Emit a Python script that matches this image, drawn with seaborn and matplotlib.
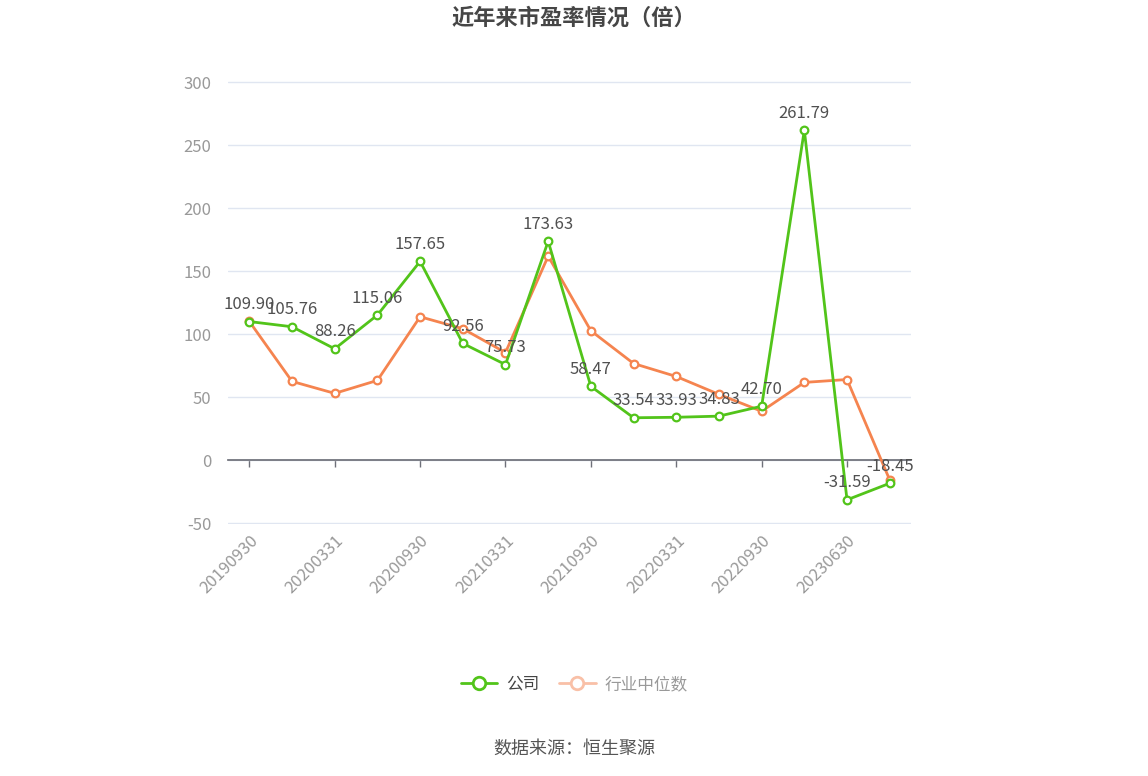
import pandas as pd
import seaborn as sns
import matplotlib.pyplot as plt

dates = ["20190930", "20191231", "20200331", "20200630", "20200930", "20201231",
         "20210331", "20210630", "20210930", "20211231", "20220331", "20220630",
         "20220930", "20221231", "20230630", "20230930"]
company = [109.90, 105.76, 88.26, 115.06, 157.65, 92.56, 75.73, 173.63,
           58.47, 33.54, 33.93, 34.83, 42.70, 261.79, -31.59, -18.45]
industry = [110.0, 62.4, 52.9, 63.2, 113.7, 104.2, 85.3, 161.8,
            102.6, 76.6, 66.3, 52.1, 38.7, 61.6, 63.9, -15.8]
y_ticks = [-50, 0, 50, 100, 150, 200, 250, 300]

sns.set_theme(style="white")
plt.rcParams['font.family'] = ['Noto Sans CJK SC', 'DejaVu Sans']
plt.rcParams['axes.unicode_minus'] = False

green = "#52c41a"
orange = "#f5844f"

df = pd.DataFrame({"idx": range(len(dates)), "company": company, "industry": industry})

fig = plt.figure(figsize=(11.48, 7.76), dpi=100)
ax = fig.add_axes([0.1986, 0.3247, 0.595, 0.5709])

ax.set_yticks(y_ticks)
ax.set_ylim(-50.8, 300.8)
ax.set_xlim(-0.5, len(dates) - 0.5)
ax.grid(axis='y', color="#e0e6f1", linewidth=1)
ax.set_axisbelow(True)

sns.lineplot(data=df, x="idx", y="industry", ax=ax, color=orange, linewidth=2,
             marker='o', markersize=5.5, markerfacecolor='white',
             markeredgecolor=orange, markeredgewidth=1.6, zorder=3)
sns.lineplot(data=df, x="idx", y="company", ax=ax, color=green, linewidth=2,
             marker='o', markersize=5.5, markerfacecolor='white',
             markeredgecolor=green, markeredgewidth=1.6, zorder=4)

for i, v in enumerate(company):
    ax.annotate(f"{v:.2f}", (i, v), xytext=(0, 6), textcoords='offset points',
                ha='center', va='bottom', fontsize=12, color="#505050", zorder=5)

for s in ['top', 'right', 'left']:
    ax.spines[s].set_visible(False)
ax.spines['bottom'].set_position(('data', 0))
ax.spines['bottom'].set_color("#6e7079")
ax.set_xticks(range(0, len(dates), 2))
ax.tick_params(axis='x', bottom=True, length=5, width=1, color="#6e7079",
               labelbottom=False, direction='out')
ax.tick_params(axis='y', length=0, labelsize=12, labelcolor="#999999", pad=12)
ax.set_xlabel("")
ax.set_ylabel("")

sec = ax.secondary_xaxis(location=0)
sec.set_xticks(range(0, len(dates), 2))
sec.set_xticklabels(dates[::2], rotation=45, ha='right', rotation_mode='anchor')
sec.tick_params(length=0, labelsize=12, labelcolor="#999999", pad=6)
sec.spines['bottom'].set_visible(False)

fig.text(0.5, 0.977, "近年来市盈率情况（倍）", ha='center', va='center',
         fontsize=16, fontweight='bold', color="#464646")

h1 = plt.Line2D([], [], color=green, linewidth=2, marker='o', markersize=9,
                markerfacecolor='white', markeredgecolor=green, markeredgewidth=2)
h2 = plt.Line2D([], [], color="#f9c0a7", linewidth=2, marker='o', markersize=9,
                markerfacecolor='white', markeredgecolor="#f9c0a7", markeredgewidth=2)
leg = fig.legend([h1, h2], ["公司", "行业中位数"], loc='center', bbox_to_anchor=(0.5, 0.118),
                 ncol=2, frameon=False, fontsize=12, handlelength=2.2,
                 columnspacing=1.2, handletextpad=0.5)
leg.get_texts()[0].set_color("#444444")
leg.get_texts()[1].set_color("#999999")

fig.text(0.5, 0.035, "数据来源：恒生聚源", ha='center', va='center', fontsize=13, color="#555555")

fig.savefig("out.png", dpi=100)
